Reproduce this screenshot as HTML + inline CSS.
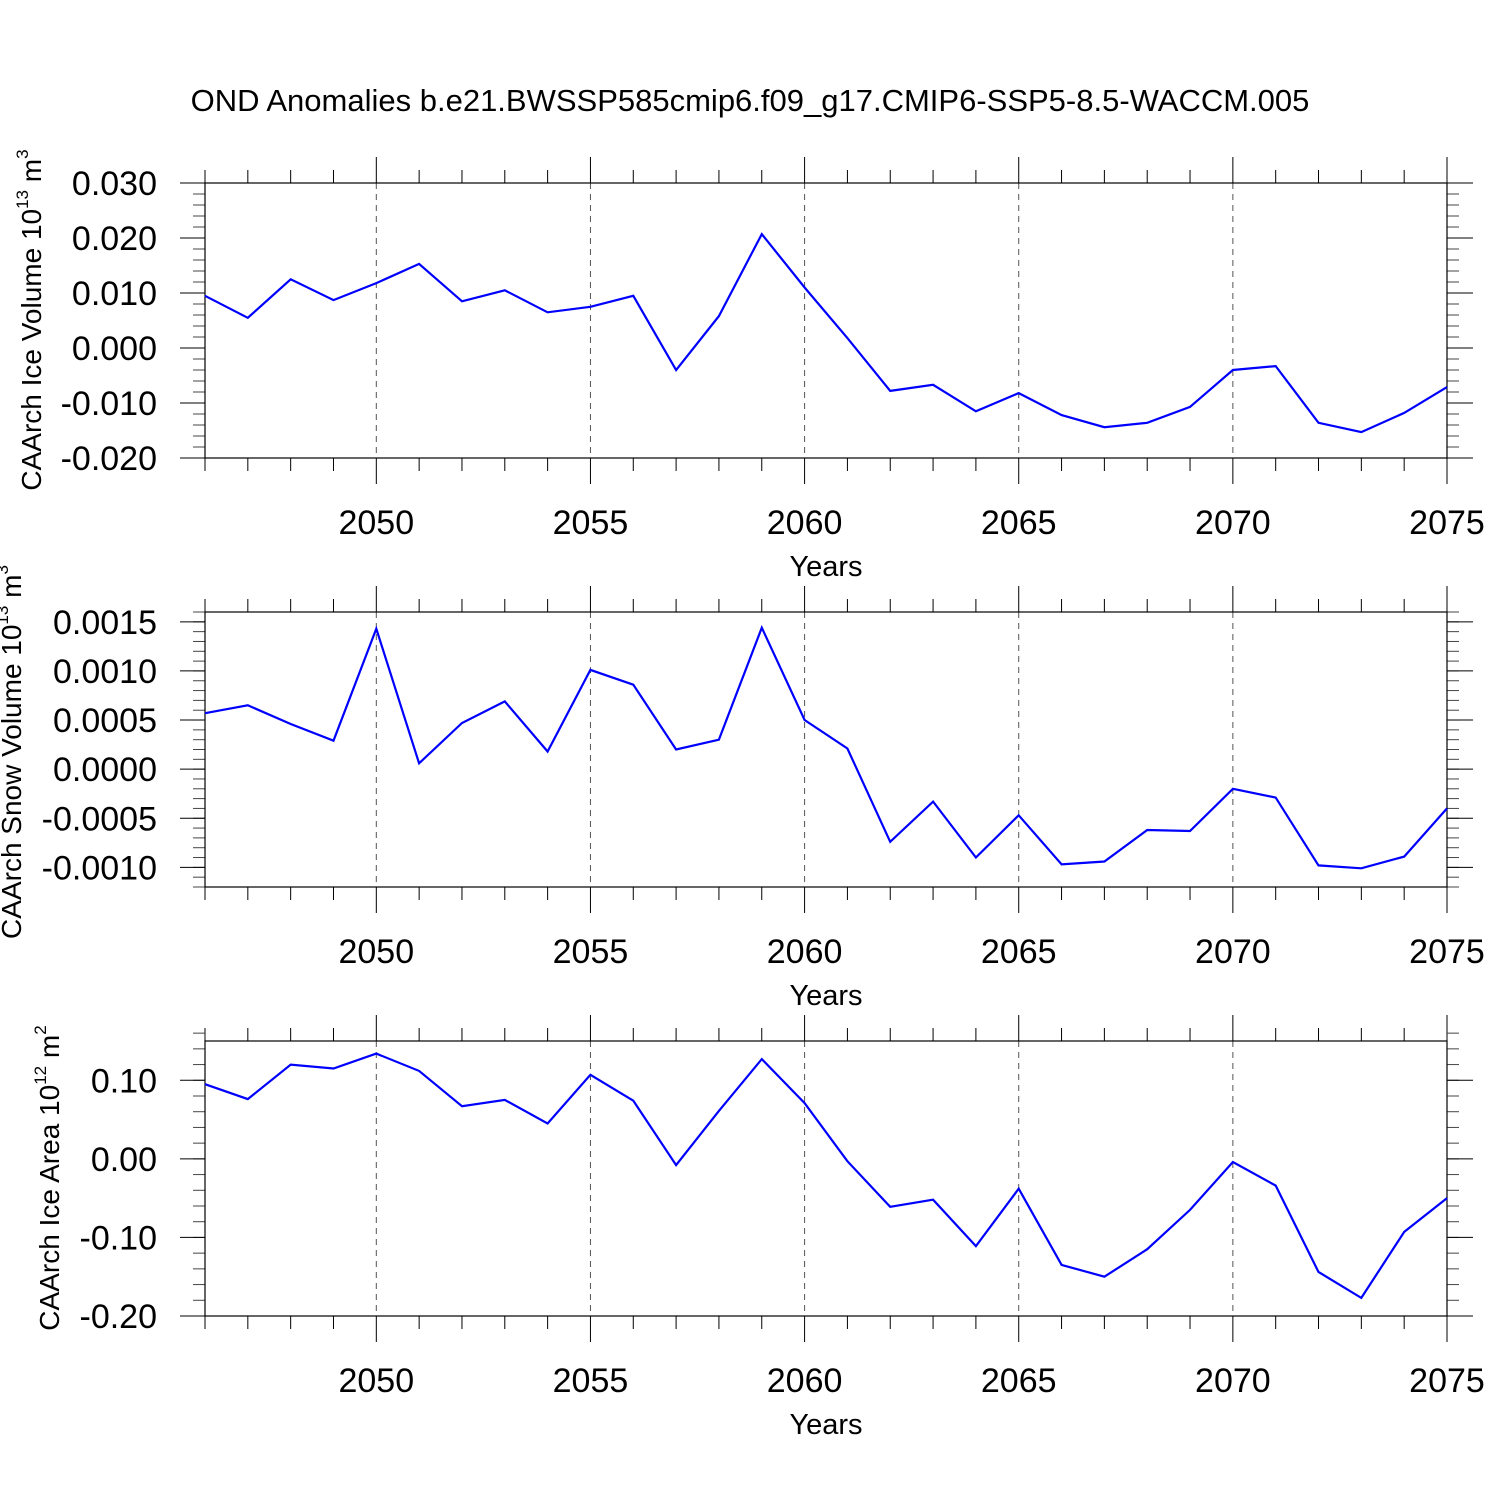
<!DOCTYPE html>
<html><head><meta charset="utf-8"><style>
html,body{margin:0;padding:0;background:#fff;}
svg{display:block;font-family:"Liberation Sans",Arial,sans-serif;}
</style></head><body>
<svg id="chart" width="1500" height="1500" viewBox="0 0 1500 1500" xmlns="http://www.w3.org/2000/svg">
<rect width="1500" height="1500" fill="#fff"/>
<text x="750" y="111" font-size="31" text-anchor="middle">OND Anomalies b.e21.BWSSP585cmip6.f09_g17.CMIP6-SSP5-8.5-WACCM.005</text>
</svg>
<script>
const years = [2046,2047,2048,2049,2050,2051,2052,2053,2054,2055,2056,2057,2058,2059,2060,2061,2062,2063,2064,2065,2066,2067,2068,2069,2070,2071,2072,2073,2074,2075];
const iceVolume = [0.0095,0.0055,0.0125,0.0087,0.0118,0.0153,0.0085,0.0105,0.0065,0.0075,0.0095,-0.004,0.0058,0.0207,0.011,0.0018,-0.0078,-0.0067,-0.0115,-0.0082,-0.0122,-0.0144,-0.0136,-0.0107,-0.004,-0.0033,-0.0136,-0.0153,-0.0118,-0.0071];
const snowVolume = [0.00057,0.00065,0.00046,0.00029,0.00143,0.00006,0.00047,0.00069,0.00018,0.00101,0.00086,0.0002,0.0003,0.00144,0.0005,0.00021,-0.00074,-0.00033,-0.0009,-0.00047,-0.00097,-0.00094,-0.00062,-0.00063,-0.0002,-0.00029,-0.00098,-0.00101,-0.00089,-0.0004];
const iceArea = [0.095,0.076,0.12,0.115,0.134,0.112,0.067,0.075,0.045,0.107,0.074,-0.008,0.061,0.127,0.071,-0.003,-0.061,-0.052,-0.111,-0.038,-0.135,-0.150,-0.115,-0.065,-0.004,-0.034,-0.144,-0.177,-0.093,-0.050];
const xTickLabels = ["2050","2055","2060","2065","2070","2075"];
const iceVolTicks = ["0.030","0.020","0.010","0.000","-0.010","-0.020"];
const snowTicks = ["0.0015","0.0010","0.0005","0.0000","-0.0005","-0.0010"];
const areaTicks = ["0.10","0.00","-0.10","-0.20"];

const svg = document.getElementById('chart');
const NS = 'http://www.w3.org/2000/svg';
function mk(tag, attrs, parent){const e=document.createElementNS(NS,tag);for(const k in attrs)e.setAttribute(k,attrs[k]);(parent||svg).appendChild(e);return e;}

const X0=205, X1=1447, YR0=2046, YR1=2075;
function xs(yr){return X0+(yr-YR0)/(YR1-YR0)*(X1-X0);}

function panel(cfg){
  const g=mk('g',{});
  
  
  const T=cfg.top,B=cfg.top+275;
  const ys=v=>T+(cfg.ymax-v)/(cfg.ymax-cfg.ymin)*(B-T);
  for(let yr=YR0; yr<=YR1; yr++){
    const x=xs(yr), major=(yr%5===0);
    if(major && yr>YR0 && yr<YR1){
      const gl=mk('line',{x1:x,x2:x,y1:T,y2:B,stroke:'#555','stroke-width':1,'stroke-dasharray':'6,5'},g);
      
      
    }
    const L=major?26:13;
    mk('line',{x1:x,x2:x,y1:T-L,y2:T,stroke:'#000','stroke-width':1},g);
    mk('line',{x1:x,x2:x,y1:B,y2:B+L,stroke:'#000','stroke-width':1},g);
  }
  xTickLabels.forEach(l=>{
    const t=mk('text',{x:xs(+l),y:B+76,'font-size':34,'text-anchor':'middle'},g);
    t.textContent=l;
    
    
  });
  const xt=mk('text',{x:826,y:B+118,'font-size':29,'text-anchor':'middle'},g);
  xt.textContent='Years';
  
  
  const nMin=Math.round((cfg.ymax-cfg.ymin)/cfg.minor);
  for(let i=0;i<=nMin;i++){
    const y=ys(cfg.ymin+i*cfg.minor);
    mk('line',{x1:X0,x2:X0-12,y1:y,y2:y,stroke:'#444','stroke-width':1},g);
    mk('line',{x1:X1,x2:X1+12,y1:y,y2:y,stroke:'#444','stroke-width':1},g);
  }
  cfg.ticks.forEach(l=>{
    const y=ys(parseFloat(l));
    mk('line',{x1:X0-25,x2:X0,y1:y,y2:y,stroke:'#000','stroke-width':1},g);
    mk('line',{x1:X1,x2:X1+26,y1:y,y2:y,stroke:'#000','stroke-width':1},g);
    const t=mk('text',{x:157,y:y+12,'font-size':34,'text-anchor':'end'},g);
    t.textContent=l;
    
    
  });
  mk('rect',{x:X0,y:T,width:X1-X0,height:B-T,fill:'none',stroke:'#000','stroke-width':1.2},g);
  const pts=cfg.data.map((v,i)=>xs(years[i]).toFixed(1)+','+ys(v).toFixed(1)).join(' ');
  const pl=mk('polyline',{points:pts,fill:'none',stroke:'#0000ff','stroke-width':2.2,'stroke-linejoin':'miter'},g);
  
  
  const yt=mk('text',{x:0,y:0,'font-size':28,'text-anchor':'middle',transform:`translate(${cfg.tx},${cfg.ty}) rotate(-90)`},g);
  yt.innerHTML=cfg.title+' 10<tspan font-size="17" dy="-13">'+cfg.exp+'</tspan><tspan dy="13"> m</tspan><tspan font-size="17" dy="-13">'+cfg.unitExp+'</tspan>';
  
  
}
panel({name:'ice-volume-panel',top:183,ymin:-0.02,ymax:0.03,minor:0.002,ticks:iceVolTicks,data:iceVolume,title:'CAArch Ice Volume',exp:'13',unitExp:'3',tx:41,ty:320});
panel({name:'snow-volume-panel',top:612,ymin:-0.0012,ymax:0.0016,minor:0.0001,ticks:snowTicks,data:snowVolume,title:'CAArch Snow Volume',exp:'13',unitExp:'3',tx:21,ty:752});
panel({name:'ice-area-panel',top:1041,ymin:-0.2,ymax:0.15,minor:0.02,ticks:areaTicks,data:iceArea,title:'CAArch Ice Area',exp:'12',unitExp:'2',tx:59,ty:1178});
</script>
</body></html>
